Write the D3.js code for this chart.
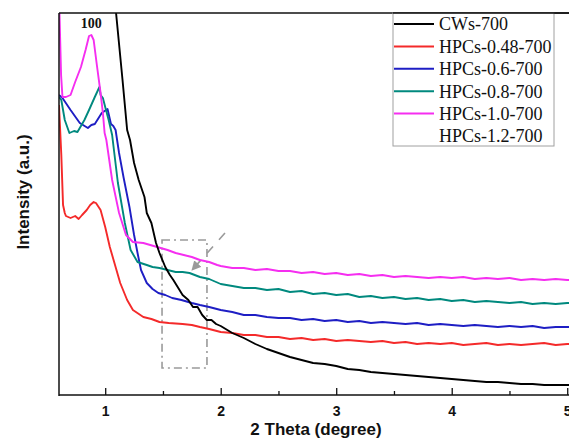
<!DOCTYPE html>
<html><head><meta charset="utf-8">
<script src="https://cdn.jsdelivr.net/npm/d3@7/dist/d3.min.js"></script>
<style>body{margin:0;background:#fff}svg{display:block}</style>
</head><body>
<svg id="chart" width="569" height="438"></svg>
<script>
// Data: [2θ (degree), intensity (a.u.)]
const seriesNames = ["CWs-700","HPCs-0.48-700","HPCs-0.6-700","HPCs-0.8-700","HPCs-1.0-700","HPCs-1.2-700"];
const seriesColors = ["#000000","#f42a2a","#1e1ec4","#00897e","#f52ef0","none"];
const xTicks = [1,2,3,4,5];
const xMinorTicks = [1.5,2.5,3.5,4.5];
const peakLabel = "100";

const cws700 = [[1.0,470],[1.094,382],[1.15,315],[1.19,265],[1.215,255],[1.25,232],[1.29,215],[1.34,198],[1.36,182],
 [1.40,172],[1.44,152],[1.47,142],[1.52,128],[1.56,120],[1.59,115],[1.67,100],[1.72,95],[1.76,88],[1.80,88],[1.84,80],[1.88,75],[1.92,75],[1.96,71],
 [2.0,69],[2.1,62],[2.2,57],[2.3,51],[2.4,46],[2.5,42],[2.6,38],[2.7,35],[2.8,32],[2.9,31],[3.0,29],[3.1,26],[3.2,25],[3.3,23],[3.4,22],[3.5,21],
 [3.6,20],[3.7,19],[3.8,18],[3.9,17],[4.0,16],[4.1,15],[4.2,14],[4.3,13],[4.4,13],[4.5,12],[4.6,11],[4.7,11],[4.8,10],[4.9,10],[5.0,10],[5.1,10]];

const hpcs048 = [[0.60,290],[0.62,240],[0.635,190],[0.65,182],[0.66,179],[0.70,177],[0.74,179],[0.77,176],[0.80,180],[0.84,185],[0.87,190],[0.90,193],
 [0.92,192],[0.96,185],[1.00,168],[1.04,148],[1.09,128],[1.13,112],[1.19,95],[1.24,85],[1.33,78],[1.4,76],[1.47,73],[1.55,72],[1.67,71],[1.75,70],
 [1.82,68],[1.9,66],[2.0,63],[2.1,62],[2.2,60],[2.3,60],[2.4,58],[2.5,58],[2.6,56],[2.7,57],[2.8,55],[2.9,56],[3.0,54],[3.1,55],[3.2,54],[3.3,53],
 [3.4,54],[3.5,52],[3.6,53],[3.7,51],[3.8,52],[3.9,51],[4.0,52],[4.1,50],[4.2,51],[4.3,52],[4.4,50],[4.5,51],[4.6,50],[4.7,51],[4.8,52],[4.9,50],[5.0,51],[5.1,51]];

const hpcs06 = [[0.60,300],[0.63,297],[0.70,285],[0.78,272],[0.85,267],[0.88,270],[0.91,271],[0.97,282],[1.02,286],[1.05,271],[1.07,269],[1.09,265],
 [1.12,242],[1.16,217],[1.21,188],[1.25,160],[1.28,142],[1.31,125],[1.36,112],[1.41,106],[1.46,102],[1.52,100],[1.58,97],[1.66,95],[1.75,92],
 [1.82,90],[1.90,88],[2.0,85],[2.1,83],[2.2,80],[2.3,80],[2.4,78],[2.5,77],[2.6,77],[2.7,75],[2.8,76],[2.9,74],[3.0,75],[3.1,73],[3.2,74],[3.3,72],
 [3.4,73],[3.5,72],[3.6,71],[3.7,72],[3.8,70],[3.9,71],[4.0,70],[4.1,69],[4.2,70],[4.3,69],[4.4,68],[4.5,69],[4.6,68],[4.7,69],[4.8,67],[4.9,68],[5.0,68],[5.1,68]];

const hpcs08 = [[0.60,298],[0.62,295],[0.65,275],[0.69,262],[0.73,264],[0.76,263],[0.82,275],[0.86,285],[0.91,298],[0.95,308],[0.96,300],[0.98,297],
 [1.00,288],[1.03,275],[1.06,260],[1.11,212],[1.17,172],[1.22,145],[1.28,133],[1.36,130],[1.41,128],[1.47,127],[1.54,125],[1.61,123],[1.67,123],
 [1.73,122],[1.82,118],[1.9,116],[1.96,113],[2.0,111],[2.1,109],[2.2,107],[2.3,107],[2.4,105],[2.5,106],[2.6,103],[2.7,104],[2.8,101],[2.9,102],
 [3.0,100],[3.1,101],[3.2,98],[3.3,99],[3.4,97],[3.5,98],[3.6,96],[3.7,97],[3.8,95],[3.9,96],[4.0,94],[4.1,95],[4.2,93],[4.3,94],[4.4,93],[4.5,92],
 [4.6,93],[4.7,91],[4.8,92],[4.9,91],[5.0,92],[5.1,92]];

const hpcs10 = [[0.60,400],[0.618,320],[0.63,298],[0.66,298],[0.70,300],[0.74,313],[0.79,328],[0.83,345],[0.86,359],[0.88,360],[0.90,355],[0.93,328],
 [0.96,302],[0.98,282],[0.995,262],[1.01,255],[1.06,215],[1.12,182],[1.18,160],[1.24,153],[1.33,152],[1.39,150],[1.45,148],[1.54,145],[1.61,142],
 [1.68,140],[1.75,138],[1.82,135],[1.9,133],[1.97,130],[2.0,129],[2.1,127],[2.2,127],[2.3,125],[2.4,126],[2.5,124],[2.6,124],[2.7,122],[2.8,123],
 [2.9,121],[3.0,122],[3.1,120],[3.2,121],[3.3,119],[3.4,120],[3.5,118],[3.6,119],[3.7,118],[3.8,117],[3.9,118],[4.0,117],[4.1,118],[4.2,116],
 [4.3,117],[4.4,116],[4.5,117],[4.6,115],[4.7,116],[4.8,115],[4.9,116],[5.0,115],[5.1,115]];

const hpcs12 = [];

// Inset marker box (2θ range, intensity range) and leader arrow
const boxTheta = [1.492, 1.881];
const boxIntensity = [27, 155];
const arrowFrom = [2.037, 162];
const arrowTo = [1.752, 125];

const W = 569, H = 438;
const svg = d3.select("#chart");
const x = d3.scaleLinear().domain([0.6, 5.05]).range([59, 573]);
const y = d3.scaleLinear().domain([0, 382]).range([395, 13]);

svg.append("defs").append("clipPath").attr("id","clip")
  .append("rect").attr("x",59).attr("y",13).attr("width",W-59).attr("height",382);
svg.select("defs").append("marker").attr("id","arr").attr("viewBox","0 0 10 10")
  .attr("refX",9).attr("refY",5).attr("markerWidth",6).attr("markerHeight",6).attr("orient","auto")
  .append("path").attr("d","M0,0L10,5L0,10z").attr("fill","#9a9a9a");

const allSeries = [cws700, hpcs048, hpcs06, hpcs08, hpcs10, hpcs12];
const line = d3.line().x(d=>x(d[0])).y(d=>y(d[1]));
const plot = svg.append("g").attr("clip-path","url(#clip)");

// dash-dot box
plot.append("rect")
  .attr("x", x(boxTheta[0])).attr("y", y(boxIntensity[1]))
  .attr("width", x(boxTheta[1]) - x(boxTheta[0])).attr("height", y(boxIntensity[0]) - y(boxIntensity[1]))
  .attr("fill","none").attr("stroke","#9a9a9a").attr("stroke-width",1.6).attr("stroke-dasharray","8,4,2,4");
plot.append("line")
  .attr("x1", x(arrowFrom[0])).attr("y1", y(arrowFrom[1])).attr("x2", x(arrowTo[0])).attr("y2", y(arrowTo[1]))
  .attr("stroke","#9a9a9a").attr("stroke-width",1.6).attr("stroke-dasharray","9,9").attr("marker-end","url(#arr)");

// order of drawing: back to front
[1,2,3,4,0].forEach(i=>{
  if (!allSeries[i].length) return;
  plot.append("path").datum(allSeries[i]).attr("d", line)
    .attr("fill","none").attr("stroke", seriesColors[i]).attr("stroke-width",1.9).attr("stroke-linejoin","round");
});

// axes
const xAxis = svg.append("g").attr("transform","translate(0,395)")
  .call(d3.axisBottom(x).tickValues(xTicks).tickFormat(d3.format("d")).tickSizeInner(-7).tickSizeOuter(0).tickPadding(11));
xAxis.select(".domain").remove();
xAxis.selectAll("line").attr("stroke","#111").attr("stroke-width",1.3);
xAxis.selectAll("text").attr("font-family","Liberation Sans, Arial, sans-serif").attr("font-weight","bold").attr("font-size",14).attr("fill","#111");
const xMinor = svg.append("g").attr("transform","translate(0,395)")
  .call(d3.axisBottom(x).tickValues(xMinorTicks).tickFormat("").tickSizeInner(-4).tickSizeOuter(0));
xMinor.select(".domain").remove();
xMinor.selectAll("line").attr("stroke","#111").attr("stroke-width",1.3);

svg.append("line").attr("x1",59).attr("x2",W).attr("y1",395).attr("y2",395).attr("stroke","#111").attr("stroke-width",1.5);
svg.append("line").attr("x1",59).attr("x2",W).attr("y1",13).attr("y2",13).attr("stroke","#111").attr("stroke-width",1.5);
svg.append("line").attr("x1",59).attr("x2",59).attr("y1",13).attr("y2",396).attr("stroke","#111").attr("stroke-width",1.5);

svg.append("text").attr("x",316).attr("y",435).attr("text-anchor","middle")
  .attr("font-family","Liberation Sans, Arial, sans-serif").attr("font-weight","bold").attr("font-size",17)
  .attr("fill","#111").text("2 Theta (degree)");
svg.append("text").attr("transform","translate(29,192) rotate(-90)").attr("text-anchor","middle")
  .attr("font-family","Liberation Sans, Arial, sans-serif").attr("font-weight","bold").attr("font-size",17)
  .attr("fill","#111").text("Intensity (a.u.)");

// peak label
svg.append("text").attr("x", x(0.88)).attr("y", 28).attr("text-anchor","middle")
  .attr("font-family","Liberation Serif, Times New Roman, serif").attr("font-weight","bold").attr("font-size",14)
  .attr("fill","#111").text(peakLabel);

// legend
const lg = svg.append("g");
lg.append("rect").attr("x",393).attr("y",13).attr("width",161).attr("height",133)
  .attr("fill","#fff").attr("stroke","#a0a0a0").attr("stroke-width",1);
seriesNames.forEach((n,i)=>{
  const cy = 24 + i*22.4;
  if (seriesColors[i] !== "none")
    lg.append("line").attr("x1",394).attr("x2",434).attr("y1",cy).attr("y2",cy)
      .attr("stroke",seriesColors[i]).attr("stroke-width",2);
  lg.append("text").attr("x",439).attr("y",cy).attr("dy","0.35em")
    .attr("font-family","Liberation Serif, Times New Roman, serif").attr("font-size",18)
    .attr("fill","#111").text(n);
});
svg.append("line").attr("x1",393).attr("x2",W).attr("y1",13).attr("y2",13).attr("stroke","#111").attr("stroke-width",1.5);
</script>
</body></html>
